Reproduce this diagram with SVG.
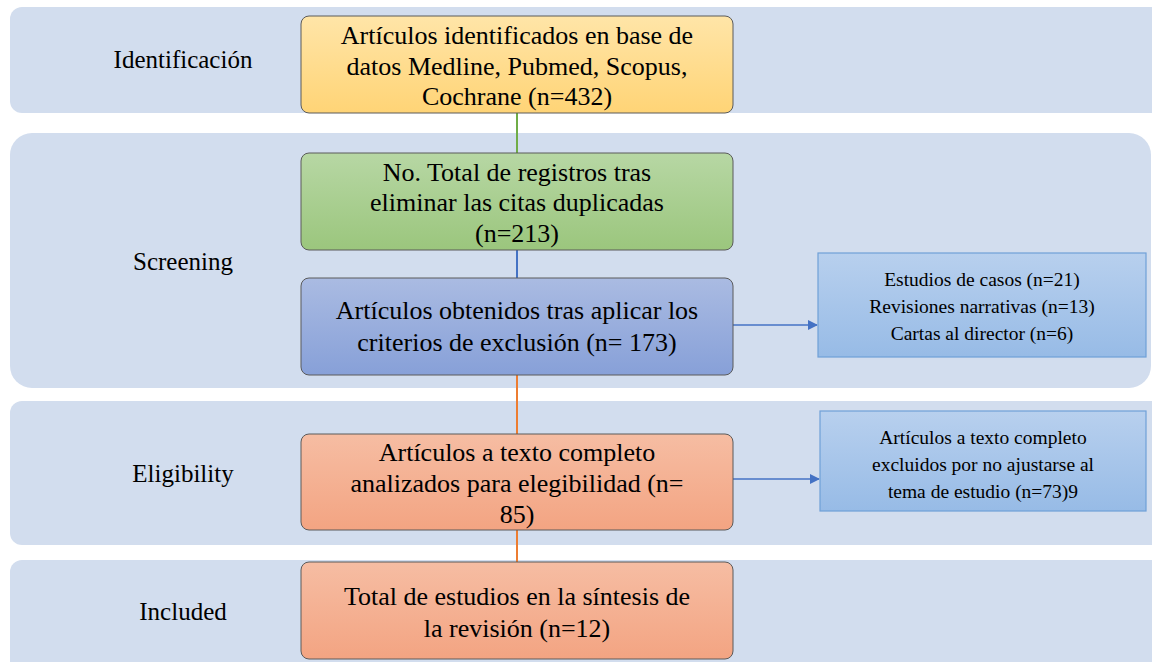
<svg xmlns="http://www.w3.org/2000/svg" width="1152" height="662" viewBox="0 0 1152 662">
<defs>
<linearGradient id="gy" x1="0" y1="0" x2="0" y2="1"><stop offset="0" stop-color="#FFE5A8"/><stop offset="1" stop-color="#FFD476"/></linearGradient>
<linearGradient id="gg" x1="0" y1="0" x2="0" y2="1"><stop offset="0" stop-color="#B7D7A4"/><stop offset="1" stop-color="#9BC67D"/></linearGradient>
<linearGradient id="gb" x1="0" y1="0" x2="0" y2="1"><stop offset="0" stop-color="#AABBE2"/><stop offset="1" stop-color="#87A0D8"/></linearGradient>
<linearGradient id="go" x1="0" y1="0" x2="0" y2="1"><stop offset="0" stop-color="#F6BDA3"/><stop offset="1" stop-color="#F3A482"/></linearGradient>
<linearGradient id="gl" x1="0" y1="0" x2="0" y2="1"><stop offset="0" stop-color="#B8D0EE"/><stop offset="1" stop-color="#97BBE6"/></linearGradient>
<marker id="ah" markerWidth="10" markerHeight="10" refX="9" refY="5" orient="auto" markerUnits="userSpaceOnUse"><path d="M0,0 L10,5 L0,10 z" fill="#4472C4"/></marker>
</defs>
<style>
.band{fill:#D2DDEE}
.box{stroke:#5a5a5a;stroke-width:1}
.side{fill:url(#gl);stroke:#6FA0D8;stroke-width:1.2}
</style>
<rect width="1152" height="662" fill="#fff"/>
<g id="bands">
<rect class="band" x="10" y="7" width="1160" height="106" rx="12"/>
<rect class="band" x="10" y="133" width="1141" height="255" rx="22"/>
<rect class="band" x="10" y="401" width="1160" height="144" rx="12"/>
<rect class="band" x="10" y="560" width="1160" height="120" rx="12"/>
</g>
<g id="connectors" fill="none">
<line x1="517" y1="113" x2="517" y2="153" stroke="#70AD47" stroke-width="2"/>
<line x1="517" y1="250" x2="517" y2="278" stroke="#4472C4" stroke-width="2"/>
<line x1="517" y1="375" x2="517" y2="434" stroke="#ED7D31" stroke-width="2"/>
<line x1="517" y1="530" x2="517" y2="562" stroke="#ED7D31" stroke-width="2"/>
<line x1="733" y1="325" x2="817" y2="325" stroke="#4472C4" stroke-width="1.5" marker-end="url(#ah)"/>
<line x1="733" y1="479" x2="819" y2="479" stroke="#4472C4" stroke-width="1.5" marker-end="url(#ah)"/>
</g>
<g id="n1">
<rect class="box" x="301" y="16" width="432" height="97" rx="8" fill="url(#gy)"/>
</g>
<g id="n2">
<rect class="box" x="301" y="153" width="432" height="97" rx="8" fill="url(#gg)"/>
</g>
<g id="n3">
<rect class="box" x="301" y="278" width="432" height="97" rx="8" fill="url(#gb)"/>
</g>
<g id="n4">
<rect class="side" x="818" y="253" width="328" height="104"/>
</g>
<g id="n5">
<rect class="box" x="301" y="434" width="432" height="96" rx="8" fill="url(#go)"/>
</g>
<g id="n6">
<rect class="side" x="820" y="411" width="326" height="100"/>
</g>
<g id="n7">
<rect class="box" x="301" y="562" width="432" height="97" rx="8" fill="url(#go)"/>
</g>
<g id="labels" font-family="Tinos, Liberation Serif, serif" fill="#000">
<text x="183" y="68" font-size="25" text-anchor="middle">Identificación</text>
<text x="183" y="270" font-size="25" text-anchor="middle">Screening</text>
<text x="183" y="482" font-size="25" text-anchor="middle">Eligibility</text>
<text x="183" y="620" font-size="25" text-anchor="middle">Included</text>
<text x="517" y="44" font-size="26" text-anchor="middle">Artículos identificados en base de</text>
<text x="517" y="75" font-size="26" text-anchor="middle">datos Medline, Pubmed, Scopus,</text>
<text x="517" y="105" font-size="26" text-anchor="middle">Cochrane (n=432)</text>
<text x="517" y="181" font-size="26" text-anchor="middle">No. Total de registros tras</text>
<text x="517" y="211" font-size="26" text-anchor="middle">eliminar las citas duplicadas</text>
<text x="517" y="242" font-size="26" text-anchor="middle">(n=213)</text>
<text x="517" y="319" font-size="26" text-anchor="middle">Artículos obtenidos tras aplicar los</text>
<text x="517" y="351" font-size="26" text-anchor="middle">criterios de exclusión (n= 173)</text>
<text x="982" y="286" font-size="19.5" text-anchor="middle">Estudios de casos (n=21)</text>
<text x="982" y="313" font-size="19.5" text-anchor="middle">Revisiones narrativas (n=13)</text>
<text x="982" y="340" font-size="19.5" text-anchor="middle">Cartas al director (n=6)</text>
<text x="517" y="461" font-size="26" text-anchor="middle">Artículos a texto completo</text>
<text x="517" y="492" font-size="26" text-anchor="middle">analizados para elegibilidad (n=</text>
<text x="517" y="523" font-size="26" text-anchor="middle">85)</text>
<text x="983" y="444" font-size="19.5" text-anchor="middle">Artículos a texto completo</text>
<text x="983" y="471" font-size="19.5" text-anchor="middle">excluidos por no ajustarse al</text>
<text x="983" y="498" font-size="19.5" text-anchor="middle">tema de estudio (n=73)9</text>
<text x="517" y="605" font-size="26" text-anchor="middle">Total de estudios en la síntesis de</text>
<text x="517" y="637" font-size="26" text-anchor="middle">la revisión (n=12)</text>
</g>
</svg>
